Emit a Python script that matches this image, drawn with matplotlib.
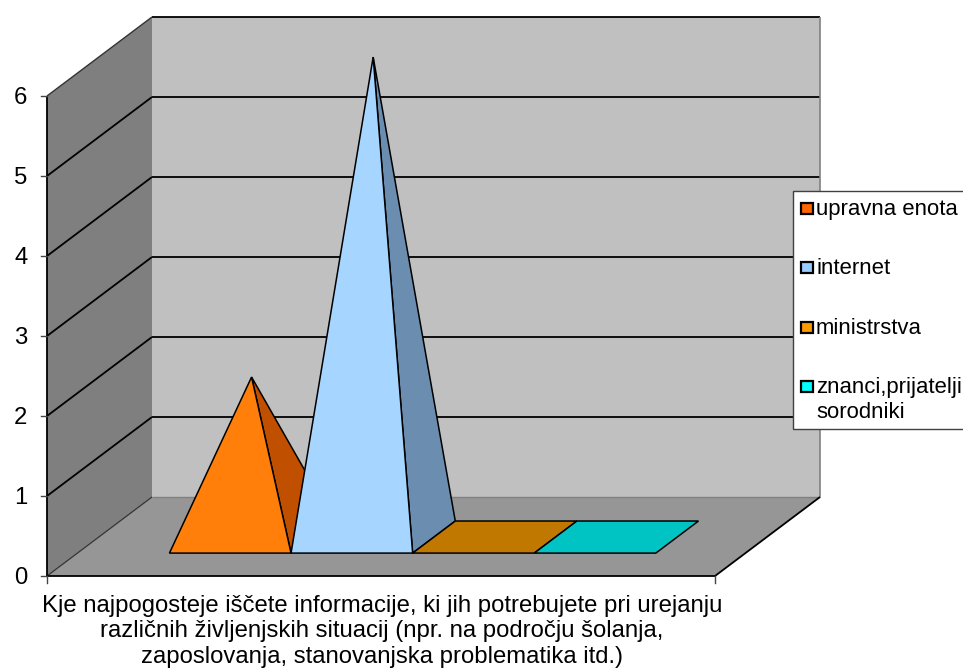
import matplotlib
matplotlib.use("Agg")
import matplotlib.pyplot as plt
from matplotlib.patches import Polygon, Rectangle

plt.rcParams['font.family'] = ['Liberation Sans', 'DejaVu Sans']

# data
series = ["upravna enota", "internet", "ministrstva", "znanci,prijatelji\nsorodniki"]
values = [2, 6, 0, 0]
yticks = [0, 1, 2, 3, 4, 5, 6]
front_colors = ["#FF7F0A", "#A6D5FF", "#C07800", "#00C4C4"]
side_colors = ["#C05000", "#6A8DB0", "#C07800", "#00C4C4"]
legend_colors = ["#FF6600", "#99CCFF", "#FF9900", "#00FFFF"]
xlabel = ("Kje najpogosteje iščete informacije, ki jih potrebujete pri urejanju\n"
          "različnih življenjskih situacij (npr. na področju šolanja,\n"
          "zaposlovanja, stanovanjska problematika itd.)")

# oblique projection of the 3-D chart box into pixels
X0, Y0 = 47.0, 576.0
WIDTH, DX, DY, UNIT = 668.0, 105.0, 79.0, 80.0
YMAX = max(yticks)
BAR_W = 121.6 / WIDTH
BAR_START = 92.0 / WIDTH
D0, D1 = 0.29, 0.696

def P(u, d, v=0.0):
    """u: fraction along the category axis, d: depth 0-1, v: value."""
    return (X0 + u * WIDTH + d * DX, Y0 - d * DY - v * UNIT)

fig = plt.figure(figsize=(9.63, 6.70), dpi=100)
ax = fig.add_axes([0, 0, 1, 1])
ax.set_xlim(0, 963)
ax.set_ylim(670, 0)
ax.axis("off")

def poly(pts, fc, ec="none", lw=0.0, z=1):
    ax.add_patch(Polygon(pts, closed=True, facecolor=fc, edgecolor=ec, linewidth=lw,
                         zorder=z, joinstyle="miter"))

def line(a, b, c="black", lw=1.3, z=2):
    ax.plot([a[0], b[0]], [a[1], b[1]], color=c, lw=lw, zorder=z, solid_capstyle="butt")

# walls and floor
poly([P(0, 0), P(0, 1), P(0, 1, YMAX), P(0, 0, YMAX)], "#7F7F7F")
poly([P(0, 1), P(1, 1), P(1, 1, YMAX), P(0, 1, YMAX)], "#C0C0C0")
poly([P(0, 0), P(1, 0), P(1, 1), P(0, 1)], "#969696")

# gridlines
for t in yticks[1:]:
    if t < YMAX:
        line(P(0, 0, t), P(0, 1, t))
    line(P(0, 1, t), P(1, 1, t))
line(P(0, 0, YMAX), P(0, 1, YMAX), c="#333333", lw=1.0)
line(P(0, 0), P(0, 1), c="#333333", lw=0.9)
line(P(0, 1), P(1, 1), c="#808080", lw=1.0)
line(P(1, 1), P(1, 1, YMAX), c="#808080", lw=1.2)

# axis lines and ticks
line(P(0, 0), P(0, 0, YMAX), lw=1.3, z=3)
line(P(0, 0), P(1, 0), lw=1.3, z=3)
line(P(1, 0), P(1, 1), lw=1.3, z=3)
for t in yticks:
    x, y = P(0, 0, t)
    ax.plot([x - 6.5, x], [y, y], color="#444444", lw=1.0, zorder=3)
    ax.text(27.5, y + 2, str(t), ha="right", va="center", fontsize=17.2, color="black")
for u in (0, 1):
    x, y = P(u, 0)
    ax.plot([x, x], [y, y + 7], color="#444444", lw=1.0, zorder=3)

# pyramids (flat when the value is zero)
for i, v in enumerate(values):
    u0 = BAR_START + i * BAR_W
    u1 = u0 + BAR_W
    fl, fr, br = P(u0, D0), P(u1, D0), P(u1, D1)
    bl = P(u0, D1)
    z = 5 + i
    if v > 0:
        apex = P((u0 + u1) / 2, (D0 + D1) / 2, v)
        poly([fr, br, apex], side_colors[i], "black", 1.1, z)
        poly([fl, fr, apex], front_colors[i], "black", 1.1, z)
    else:
        poly([fl, fr, br, bl], front_colors[i], "black", 1.1, z)

# category title
ax.text(382, 631.5, xlabel, ha="center", va="center", fontsize=17.2, color="black",
        linespacing=1.2, zorder=6)

# legend box, running off the right edge of the figure
ax.add_patch(Rectangle((793, 190.5), 200, 238, facecolor="white", edgecolor="#404040",
                       linewidth=1.0, zorder=10, clip_on=True))
legend_y = [208, 267, 327, 386]
for name, c, y in zip(series, legend_colors, legend_y):
    ax.add_patch(Rectangle((801, y - 5.5), 11.5, 11.5, facecolor=c, edgecolor="black",
                           linewidth=1.6, zorder=11))
    ax.text(816, y - 9, name, ha="left", va="top", fontsize=15.9, color="black", zorder=11,
            linespacing=1.25, clip_on=True)

fig.savefig("out.png", dpi=100)
